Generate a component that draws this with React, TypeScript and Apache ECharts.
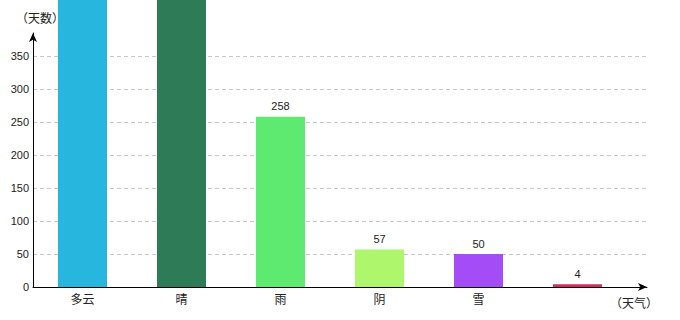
import React, { useEffect, useRef } from "react";
import * as echarts from "echarts";

const categories = ["多云", "晴", "雨", "阴", "雪", ""];
const values = [620, 560, 258, 57, 50, 4];
const barColors = ["#26b6de", "#2e7b58", "#5eea70", "#aef66c", "#a44cf6", "#cc2f62"];
const yTicks = { min: 0, max: 350, interval: 50 };

const FONT = "'Liberation Sans', 'Noto Sans CJK SC', sans-serif";
const CJK = "'Noto Sans CJK JP', 'Noto Sans CJK SC', sans-serif";

export default function App() {
  const ref = useRef<HTMLDivElement>(null);
  useEffect(() => {
    if (!ref.current) return;
    const chart = echarts.init(ref.current, undefined, { renderer: "svg" });
    chart.setOption({
      animation: false,
      textStyle: { fontFamily: FONT },
      grid: [
        { left: 33, width: 594, top: 56, bottom: 33, containLabel: false },
        { left: 33, right: 33, top: 56, bottom: 33, containLabel: false },
        { left: 33, right: 33, top: 33, bottom: 33, containLabel: false },
      ],
      xAxis: [
        {
          type: "category",
          gridIndex: 0,
          data: categories,
          axisLine: { show: false },
          axisTick: { show: false },
          axisLabel: { color: "#222", fontSize: 12, margin: 5, fontFamily: CJK },
        },
        {
          type: "value",
          gridIndex: 1,
          min: 0,
          max: 1,
          axisLine: {
            show: true,
            lineStyle: { color: "#000", width: 1 },
            symbol: ["none", "arrow"],
            symbolSize: [6, 9],
          },
          axisTick: { show: false },
          axisLabel: { show: false },
          splitLine: { show: false },
          name: "（天气）",
          nameLocation: "end",
          nameGap: -13,
          nameTextStyle: {
            color: "#222",
            fontSize: 12,
            align: "center",
            verticalAlign: "top",
            padding: [9, 0, 0, 0],
            fontFamily: CJK,
          },
        },
        {
          type: "value",
          gridIndex: 2,
          show: false,
          min: 0,
          max: 1,
        },
      ],
      yAxis: [
        {
          type: "value",
          gridIndex: 0,
          min: yTicks.min,
          max: yTicks.max,
          interval: yTicks.interval,
          show: false,
        },
        {
          type: "value",
          gridIndex: 1,
          min: yTicks.min,
          max: yTicks.max,
          interval: yTicks.interval,
          axisLine: { show: false },
          axisTick: { show: false },
          axisLabel: { color: "#222", fontSize: 11, margin: 4, fontFamily: FONT },
          splitLine: {
            show: true,
            lineStyle: { color: "#c8c8c8", type: [4, 3], width: 1 },
          },
        },
        {
          type: "value",
          gridIndex: 2,
          min: 0,
          max: 1,
          axisLine: {
            show: true,
            lineStyle: { color: "#000", width: 1 },
            symbol: ["none", "arrow"],
            symbolSize: [6, 9],
          },
          axisTick: { show: false },
          axisLabel: { show: false },
          splitLine: { show: false },
          name: "（天数）",
          nameLocation: "end",
          nameGap: 10,
          nameTextStyle: {
            color: "#222",
            fontSize: 12,
            align: "center",
            padding: [0, 0, 0, 14],
            fontFamily: CJK,
          },
        },
      ],
      series: [
        {
          type: "bar",
          xAxisIndex: 0,
          yAxisIndex: 0,
          clip: false,
          barWidth: 49,
          z: 5,
          data: values.map((v, i) => ({
            value: v,
            itemStyle: { color: barColors[i] },
            label: { show: v <= yTicks.max },
          })),
          label: {
            show: true,
            position: "top",
            distance: 5,
            color: "#222",
            fontSize: 11,
            fontFamily: FONT,
          },
        },
      ],
    });
    return () => chart.dispose();
  }, []);
  return (
    <>
      <style>{"svg, svg text, svg tspan { text-spacing-trim: space-all !important; font-feature-settings: 'halt' 0, 'chws' 0, 'palt' 0 !important; }"}</style>
      <div
        ref={ref}
        style={{ position: "fixed", left: 0, top: 0, width: 680, height: 320, background: "#fff" }}
      />
    </>
  );
}
